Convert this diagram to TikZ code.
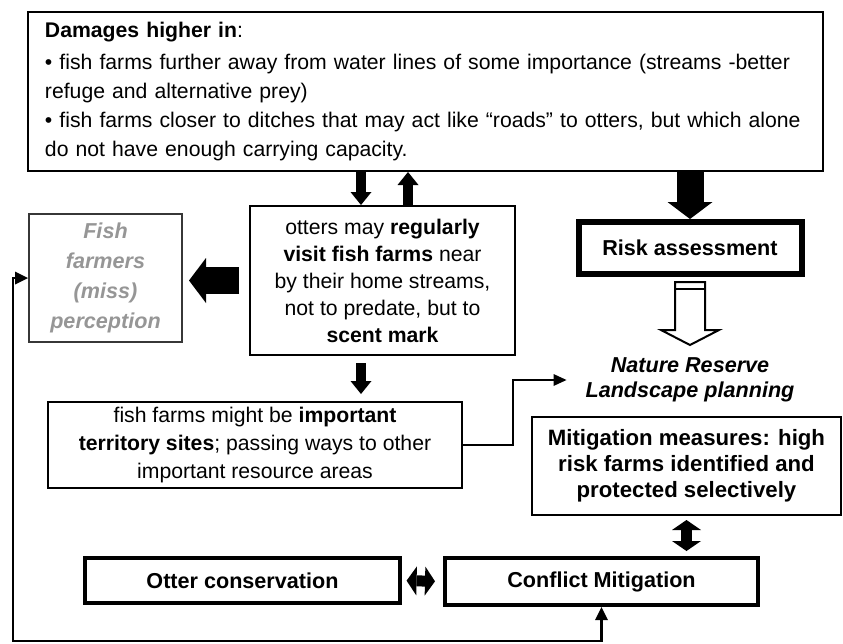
\documentclass[tikz,border=0pt]{standalone}
\usepackage{fontspec}
\setmainfont{Liberation Sans}
\usetikzlibrary{arrows.meta,calc}
\definecolor{PerceptGrey}{RGB}{150,150,150}
\definecolor{FrameGrey}{RGB}{55,55,55}
\tikzset{
  fatflow/.style={line width=13.5pt,-{Triangle[line width=0pt,length=8.5pt,width=22.5pt]}},
  slimflow/.style={line width=5pt,-{Triangle[line width=0pt,length=6.5pt,width=10.5pt]}},
  pairflow/.style={line width=5.5pt,{Triangle[line width=0pt,length=5pt,width=14.5pt]}-{Triangle[line width=0pt,length=5pt,width=14.5pt]}},
  thinflow/.style={line width=1pt,-{Triangle[line width=0pt,length=6.5pt,width=6pt]}},
  loopflow/.style={line width=1.4pt,{Triangle[line width=0pt,length=6.5pt,width=6.5pt]}-{Triangle[line width=0pt,length=6.5pt,width=6.5pt]}},
  hollowflow/.style={line width=1pt,fill=white,line join=miter},
  box/.style={draw,line width=1pt,align=center,inner sep=0pt,
    font=\fontsize{10.6}{13.5}\selectfont},
  strongbox/.style={box,line width=1.6pt,font=\fontsize{10.8}{13.5}\selectfont\bfseries},
  greybox/.style={box,draw=FrameGrey,text=PerceptGrey,
    font=\fontsize{10.8}{15}\selectfont\bfseries\itshape}
}

\begin{document}
\begin{tikzpicture}[x=0.5pt,y=-0.5pt]
  \useasboundingbox (0,0) rectangle (843,644);
  \node[box,align=left,text width=380.5pt,inner xsep=8.5pt,minimum height=79.5pt,
    font=\fontsize{10.6}{14.5}\selectfont] (top) at (425.5,91.5)
    {\textbf{Damages higher in}:\\[1.5pt]
     • fish farms further away from water lines of some importance (streams -better\\
     refuge and alternative prey)\\
     • fish farms closer to ditches that may act like “roads” to otters, but which alone\\
     do not have enough carrying capacity.};
  \node[box,minimum width=132.5pt,minimum height=74.5pt] (otters) at (382.5,280.5)
    {otters may \textbf{regularly}\\ \textbf{visit fish farms} near\\ by their home streams,\\
     not to predate, but to\\ \textbf{scent mark}};
  \node[greybox,minimum width=76.5pt,minimum height=64pt] (fish) at (105.5,278)
    {Fish\\ farmers\\ (miss)\\ perception};
  \node[box,minimum width=207pt,minimum height=43pt,font=\fontsize{10.6}{14}\selectfont] (territory) at (255,445)
    {fish farms might be \textbf{important}\\ \textbf{territory sites}; passing ways to other\\
     important resource areas};
  \node[strongbox,line width=3pt,minimum width=111.5pt,minimum height=26pt] (risk) at (690,248) {Risk assessment};
  \node[align=center,font=\fontsize{10.8}{12.5}\selectfont\bfseries\itshape] (nature) at (690,380)
    {Nature Reserve\\ Landscape planning};
  \node[box,minimum width=154.5pt,minimum height=49pt,font=\fontsize{11.1}{13}\selectfont\bfseries] (mitig) at (686.5,466)
    {Mitigation measures: high\\ risk farms identified and\\ protected selectively};
  \node[strongbox,minimum width=157.5pt,minimum height=22.5pt] (otterc) at (242.5,580.5) {Otter conservation};
  \node[strongbox,line width=2pt,minimum width=156.5pt,minimum height=23.5pt] (conflict) at (601.5,581.5) {Conflict Mitigation};

  \coordinate (pairdown) at ($(otters.north)+(-21.5,0)$);
  \coordinate (pairup) at ($(otters.north)+(25.5,0)$);
  \coordinate (elbow) at (513,380);
  \coordinate (loopcorner) at (13,641);

  \draw[slimflow] (pairdown |- top.south) -- (pairdown);
  \draw[slimflow] (pairup) -- (pairup |- top.south);
  \draw[fatflow] (top.south -| risk.north) -- (risk.north);
  \draw[fatflow,shorten <=5pt,shorten >=3pt] (otters.west) -- (otters.west -| fish.east);
  \draw[slimflow,shorten <=3.5pt,shorten >=3.5pt] (pairdown |- otters.south) -- (pairdown |- territory.north);
  \draw[thinflow,shorten >=6pt] (territory.east) -| (elbow) -- (nature.west);
  % hollow arrow below the risk box
  \draw[hollowflow] ($(risk.south)+(-15,5)$) -- ++(30,0) -- ++(0,48) -- ++(14,0)
    -- ++(-29,15) -- ++(-29,-15) -- ++(14,0) -- cycle;
  \draw[line width=1pt] ($(risk.south)+(-15,12)$) -- ++(30,0);
  \draw[pairflow,shorten <=2pt,shorten >=2.5pt] (mitig.south) -- (mitig.south |- conflict.north);
  \draw[pairflow,shorten <=2.5pt,shorten >=4pt] (otterc.east) -- (conflict.west);
  \draw[loopflow] (conflict.south) |- (loopcorner) |- (fish.west);
\end{tikzpicture}
\end{document}
